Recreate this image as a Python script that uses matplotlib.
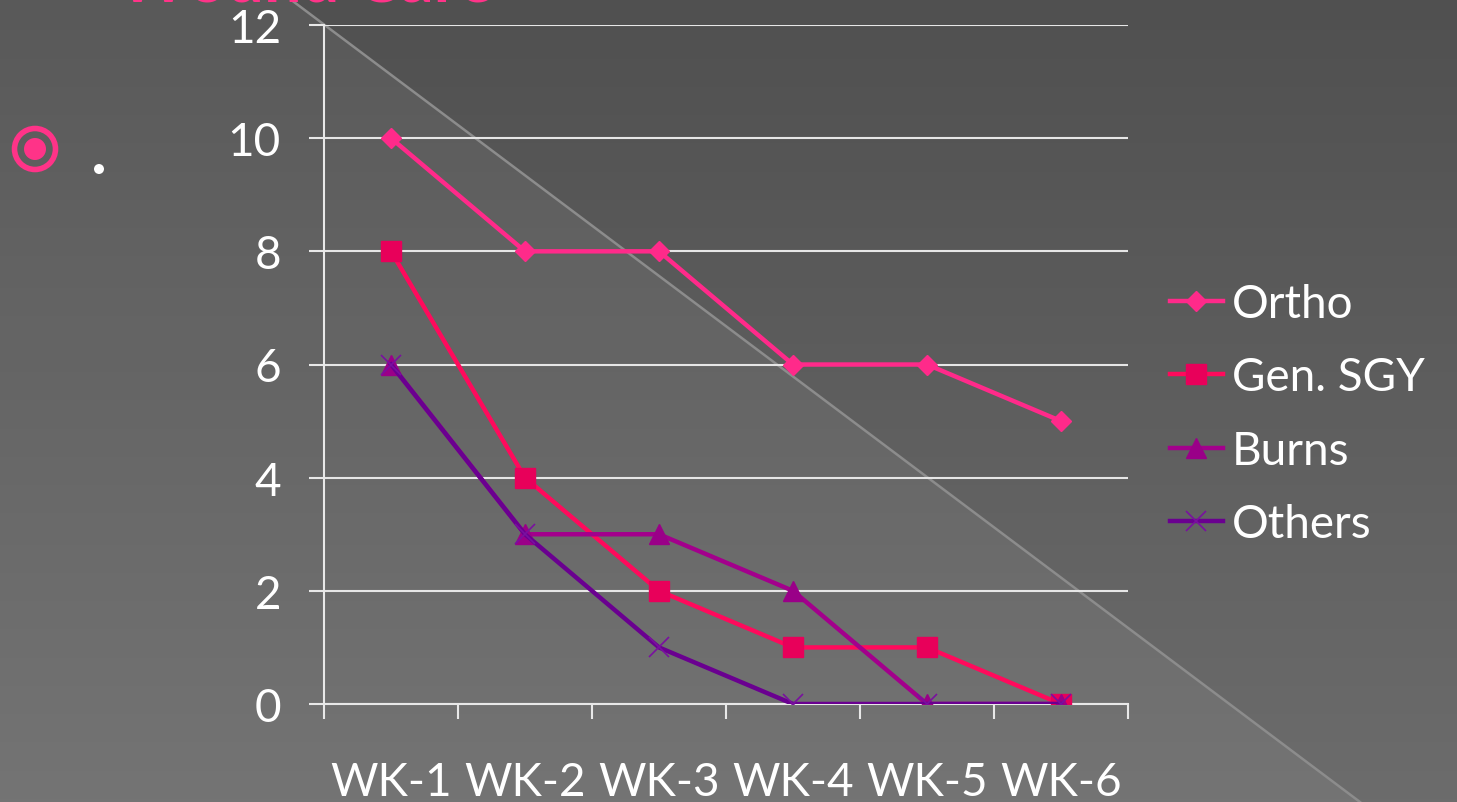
import numpy as np
import matplotlib
matplotlib.use("Agg")
import matplotlib.pyplot as plt
from matplotlib.patches import Circle, Polygon

plt.rcParams['font.family'] = ['Lato', 'DejaVu Sans']

weeks = ['WK-1', 'WK-2', 'WK-3', 'WK-4', 'WK-5', 'WK-6']
ortho = [10, 8, 8, 6, 6, 5]
gen_sgy = [8, 4, 2, 1, 1, 0]
burns = [6, 3, 3, 2, 0, 0]
others = [6, 3, 1, 0, 0, 0]

W, H = 1457, 803
fig = plt.figure(figsize=(W / 100, H / 100), dpi=100)

# slide background: vertical gradient with a lighter wedge below the diagonal
bg = fig.add_axes([0, 0, 1, 1], zorder=0)
bg.set_xlim(0, W)
bg.set_ylim(H, 0)
bg.axis('off')
grad = np.linspace(0x50, 0x6c, 256).reshape(-1, 1) / 255.0
bg.imshow(np.dstack([grad, grad, grad]), extent=[0, W, H, 0], aspect='auto', zorder=0)
bg.add_patch(Polygon([[0, 0], [290, 0], [1360, H], [0, H]], closed=True,
                     facecolor='white', alpha=0.055, edgecolor='none', zorder=1))
bg.plot([290, 1360], [0, H], color='#8c8c8c', lw=1.8, zorder=2)

# bullet and stray dot from the slide
pink = '#ff3388'
bg.add_patch(Circle((35, 150), 20.5, facecolor='none', edgecolor=pink, lw=4, zorder=3))
bg.add_patch(Circle((35, 150), 11, facecolor=pink, edgecolor='none', zorder=3))
bg.add_patch(Circle((99, 170), 5, facecolor='white', edgecolor='none', zorder=3))

# slide title, mostly cut off at the top
fig.text(118 / W, 1 - 2 / H, 'Wound Care', color=pink, fontsize=48, fontweight='bold',
         ha='left', va='baseline')

ax = fig.add_axes([324 / W, 1 - 705 / H, 804 / W, 679 / H], zorder=1)
ax.set_facecolor('none')
x = np.arange(len(weeks)) + 0.5

ax.plot(x, ortho, color='#ff2a8a', lw=3.2, marker='D', ms=10, label='Ortho', zorder=3)
ax.plot(x, gen_sgy, color='#ff0a5c', lw=3.2, marker='s', ms=14, mfc='#e8005a',
        mec='#e8005a', label='Gen. SGY', zorder=4)
ax.plot(x, burns, color='#a3008c', lw=3.2, marker='^', ms=14, mfc='#9a0088',
        mec='#9a0088', label='Burns', zorder=5)
ax.plot(x, others, color='#6a0090', lw=3.2, marker='x', ms=14, mew=1.2,
        mec='#7a10a0', label='Others', zorder=6)

ax.set_xlim(0, 6)
ax.set_ylim(0, 12)
ax.set_yticks(range(0, 13, 2))
ax.set_xticks(range(0, 7))
ax.set_xticklabels([])
ax.set_xticks(x, minor=True)
ax.set_xticklabels(weeks, minor=True)
ax.tick_params(axis='x', which='major', length=11, width=1.5, color='#e8e8e8', direction='out')
ax.tick_params(axis='x', which='minor', length=0, pad=41, labelsize=33, labelcolor='white')
ax.tick_params(axis='y', length=11, width=1.5, color='#e8e8e8', pad=20,
               labelsize=33, labelcolor='white')
ax.grid(axis='y', color='#e6e6e6', lw=1.5)
ax.set_axisbelow(True)
for s in ['top', 'right']:
    ax.spines[s].set_visible(False)
for s in ['left', 'bottom']:
    ax.spines[s].set_color('#e8e8e8')
    ax.spines[s].set_linewidth(1.5)

leg = fig.legend(loc='center left', bbox_to_anchor=(1170 / W, 1 - 415 / H),
                 frameon=False, fontsize=33, handlelength=1.15, handletextpad=0.2,
                 labelspacing=0.68, borderpad=0, borderaxespad=0)
for t in leg.get_texts():
    t.set_color('white')

fig.savefig('out.png', dpi=100)
